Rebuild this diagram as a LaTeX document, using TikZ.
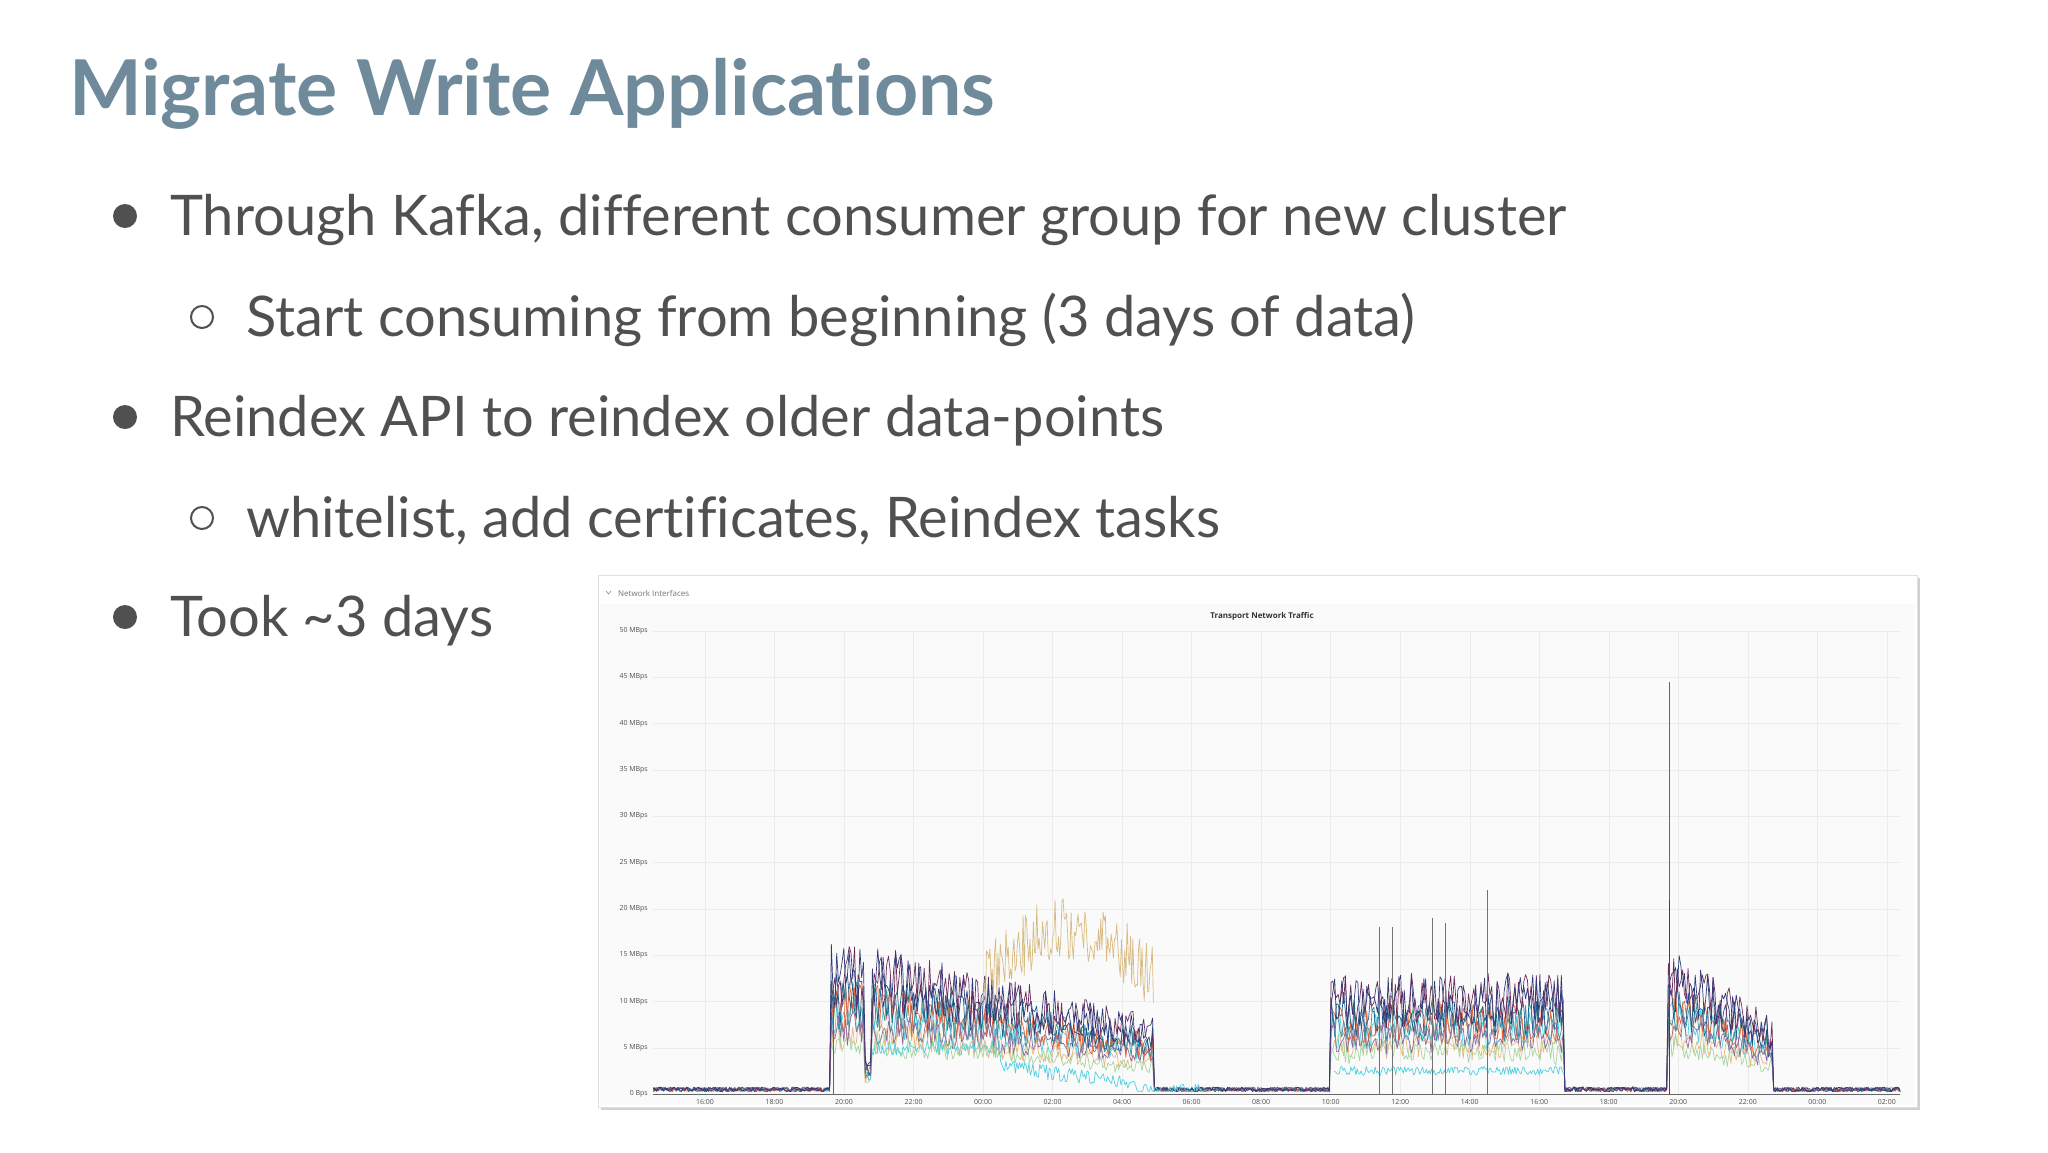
\documentclass[tikz,border=0pt]{standalone}
\usepackage{fontspec}
\setmainfont{Lato}[Ligatures=NoCommon]
\newfontfamily\chartfont{Open Sans}
\definecolor{titlec}{HTML}{6F8A9A}
\definecolor{textc}{HTML}{505050}
\definecolor{gridc}{HTML}{ECECEC}
\definecolor{s1}{HTML}{6B2D5C}
\definecolor{s2}{HTML}{2E3A7A}
\definecolor{s3}{HTML}{1F5F8B}
\definecolor{s4}{HTML}{4FD0E0}
\definecolor{s5}{HTML}{E8643A}
\definecolor{s6}{HTML}{A8D5A0}
\definecolor{s7}{HTML}{E8B878}
\definecolor{s8}{HTML}{8E6A9A}
\definecolor{s9}{HTML}{3A8FA0}
\definecolor{s10}{HTML}{F0D090}
\pgfmathdeclarefunction{act}{1}{%
  \pgfmathparse{(#1<3.6)?0:((#1<4.6)?1:((#1<4.8)?0.2:((#1<12.9)?(1-0.5*(#1-4.8)/8.1):((#1<18)?0:((#1<24.7)?0.8:((#1<27.7)?0:((#1<30.7)?(1-0.5*(#1-27.7)/3):0)))))))}}
\tikzset{
  bul/.style={font=\fontsize{56}{60}\selectfont, text=textc, anchor=base west, inner sep=0},
  ylab/.style={font=\chartfont\fontsize{7}{7}\selectfont, text=textc, anchor=east, inner sep=0},
  xlab/.style={font=\chartfont\fontsize{7}{7}\selectfont, text=textc, anchor=north, inner sep=0},
  series/.style={line width=0.7pt, line join=round},
}
\begin{document}
\begin{tikzpicture}[x=1pt,y=-1pt]
\useasboundingbox[fill=white] (0,0) rectangle (2048,1152);
\node[font=\bfseries\fontsize{77}{80}\selectfont, text=titlec, anchor=base west, inner sep=0] (title) at (69,115) {Migrate Write Applications};
\fill[textc] (125,216) circle (12);
\node[bul] (b1) at (170,235) {Through Kafka, different consumer group for new cluster};
\draw[textc, line width=2pt] (202,317) circle (11);
\node[bul] (b2) at (246,336) {Start consuming from beginning (3 days of data)};
\fill[textc] (125,417) circle (12);
\node[bul] (b3) at (170,436) {Reindex API to reindex older data-points};
\draw[textc, line width=2pt] (202,518) circle (11);
\node[bul] (b4) at (246,537) {whitelist, add certificates, Reindex tasks};
\fill[textc] (125,617) circle (12);
\node[bul] (b5) at (170,636) {Took \textasciitilde3 days};
% chart panel
\fill[black!18] (601,578) rectangle (1920,1110);
\fill[white] (598,575) rectangle (1917,1107);
\draw[black!12] (598,575) rectangle (1917,1107);
\fill[black!2] (600,604) rectangle (1915,1105);
\node[font=\chartfont\fontsize{8}{8}\selectfont, text=black!55, anchor=west, inner sep=0] (ni) at (618,593) {Network Interfaces};
\draw[black!45, line width=0.6pt] (606,591) -- (608.5,594) -- (611,591);
\node[font=\chartfont\bfseries\fontsize{8}{8}\selectfont, text=black!80, inner sep=0] (ct) at (1262,616) {Transport Network Traffic};
\foreach \v in {0,5,...,50}{
  \draw[gridc] (653,{1094-9.26*\v}) -- (1900,{1094-9.26*\v});
  \ifnum\v=0 \node[ylab] at (648,1094) {0 Bps};\else\node[ylab] at (648,{1094-9.26*\v}) {\v\ MBps};\fi
}
\foreach \h [count=\i from 0] in {16,18,20,22,00,02,04,06,08,10,12,14,16,18,20,22,00,02}{
  \draw[gridc] ({705+\i*69.52},631) -- ({705+\i*69.52},1094);
  \node[xlab] at ({705+\i*69.52},1099) {\h:00};
}
\begin{scope}
\clip (653,625) rectangle (1900,1095);
\foreach \c/\L/\sd in {s7/6/7,s6/5/6,s4/8/4,s9/9/9,s5/9/5,s3/10/3,s8/7/8,s1/12/1,s2/12/2}{
  \pgfmathsetseed{\sd}
  \draw[series,\c] plot[domain=-1.5:34.4, samples=700, variable=\t]
    ({705+\t*34.76},{1094-9.26*max(0,0.5+0.25*rand+act(\t)*\L*(1+0.3*rand))});
}
\pgfmathsetseed{42}
\draw[series,s10!90!black] plot[domain=8.0:12.9, samples=150, variable=\t]
  ({705+\t*34.76},{1094-9.26*(12+6*sin(180*(\t-8)/5)+3.5*rand)});
\pgfmathsetseed{17}
\draw[series,s4] plot[domain=4.8:14.5, samples=250, variable=\t]
  ({705+\t*34.76},{1094-9.26*max(0.3,(\t<8.5?5:(\t<12.4?(3-2*(\t-8.5)/4):0.3))+0.8*rand)});
\draw[series,s4] plot[domain=18.1:24.7, samples=180, variable=\t]
  ({705+\t*34.76},{1094-9.26*(2.5+0.5*rand)});
\draw[black!60, line width=0.8pt] (1669,1094) -- (1669,682);
\draw[s1, line width=0.8pt] (1669,1094) -- (1669,900);
\foreach \x/\v in {1379/18,1392/18,1432/19,1445/18.5,1487/22}{
  \draw[black!55, line width=0.7pt] (\x,1094) -- (\x,{1094-9.26*\v});
}
\draw[black!60, line width=0.8pt] (833,1094) -- (833,990);
\end{scope}
\draw[black!60, line width=0.8pt] (653,1094) -- (1900,1094);
\end{tikzpicture}
\end{document}
